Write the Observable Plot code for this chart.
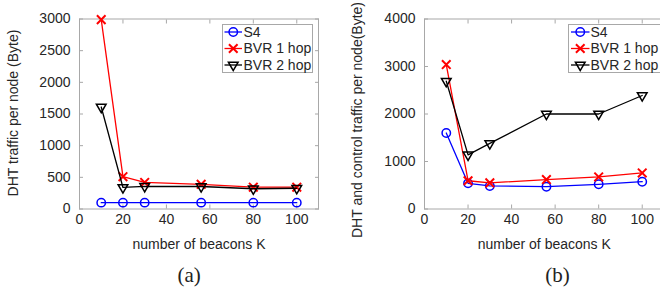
<!DOCTYPE html>
<html><head><meta charset="utf-8">
<script src="https://cdn.jsdelivr.net/npm/d3@7"></script>
<script src="https://cdn.jsdelivr.net/npm/@observablehq/plot@0.6"></script>
<style>
html,body{margin:0;padding:0;background:#fff;}
#fig{position:relative;width:660px;height:291px;overflow:hidden;background:#fff;font-family:"Liberation Sans",Arial,Helvetica,sans-serif;}
.panel{position:absolute;top:0;}
.legend{position:absolute;background:#fff;border:1px solid #a8a8a8;box-sizing:border-box;overflow:visible;}
.legend svg{display:block;overflow:visible;}
</style></head><body><div id="fig"></div>
<script>
// ---- data ----
const beacons = [10, 20, 30, 56, 80, 100];
const seriesNames = ["S4", "BVR 1 hop", "BVR 2 hop"];
const dhtS4 = [100, 100, 100, 100, 100, 100];
const dhtBvr1 = [2990, 510, 420, 390, 345, 345];
const dhtBvr2 = [1610, 340, 358, 355, 320, 328];
const ctrlS4 = [1600, 540, 485, 470, 520, 575];
const ctrlBvr1 = [3040, 595, 550, 620, 675, 760];
const ctrlBvr2 = [2690, 1140, 1380, 2000, 2000, 2390];
const xTicks = [0, 20, 40, 60, 80, 100];
const dhtTicks = [0, 500, 1000, 1500, 2000, 2500, 3000];
const ctrlTicks = [0, 1000, 2000, 3000, 4000];
const xLabel = "number of beacons K";
const dhtLabel = "DHT traffic per node (Byte)";
const ctrlLabel = "DHT and control traffic per node(Byte)";
const captions = ["(a)", "(b)"];

// ---- styles ----
const frameColor = "#a8a8a8";
const textColor = "#262626";
const sty = {
  "S4": {color: "#0000ff", symbol: "circle", d3sym: d3.symbolCircle, r: 4.2, rotate: 0, sw: 1.5},
  "BVR 1 hop": {color: "#ff0000", symbol: "times", d3sym: d3.symbolTimes, r: 4.0, rotate: 0, sw: 2},
  "BVR 2 hop": {color: "#000000", symbol: "triangle", d3sym: d3.symbolTriangle, r: 3.6, rotate: 180, sw: 1.5}
};

function rows(values, name) { return beacons.map((k, i) => ({k, v: values[i], s: name})); }

function panel({series, yDomain, yTicks, yLabel, width, marginLeft, marginRight, ylDx, ylDy, capDx, caption, xlDx}) {
  const marks = [
    Plot.frame({stroke: frameColor}),
    Plot.axisX(xTicks, {anchor: "bottom", tickSize: -4, tickPadding: 9, stroke: frameColor, fill: textColor, label: null, tickFormat: d3.format("d")}),
    Plot.axisX(xTicks, {anchor: "top", tickSize: -4, stroke: frameColor, label: null, tickFormat: () => ""}),
    Plot.axisY(yTicks, {anchor: "left", tickSize: -4, tickPadding: 13, stroke: frameColor, fill: textColor, label: null, tickFormat: d3.format("d")}),
    Plot.axisY(yTicks, {anchor: "right", tickSize: -4, stroke: frameColor, label: null, tickFormat: () => ""})
  ];
  for (const [name, values] of series) {
    const s = sty[name];
    const data = rows(values, name);
    marks.push(Plot.line(data, {x: "k", y: "v", stroke: s.color, strokeWidth: 1.3}));
    marks.push(Plot.dot(data, {x: "k", y: "v", symbol: s.symbol, r: s.r, stroke: s.color, strokeWidth: s.sw, fill: "none", rotate: s.rotate}));
  }
  marks.push(Plot.text([yLabel], {text: d => d, frameAnchor: "left", textAnchor: "middle", rotate: -90, dx: ylDx, dy: ylDy, lineAnchor: "middle", fill: textColor, fontSize: 14}));
  marks.push(Plot.text([xLabel], {text: d => d, frameAnchor: "bottom", textAnchor: "middle", dx: xlDx, dy: 35.5, lineAnchor: "middle", fill: textColor, fontSize: 14}));
  marks.push(Plot.text([caption], {text: d => d, frameAnchor: "bottom", textAnchor: "middle", dx: capDx, dy: 66.5, lineAnchor: "middle", fill: "#222", fontSize: 21, fontFamily: "Liberation Serif, Times New Roman, serif"}));
  return Plot.plot({
    width, height: 291,
    marginLeft, marginRight, marginTop: 18.5, marginBottom: 82.5,
    x: {domain: [0, 110]},
    y: {domain: yDomain},
    style: {fontFamily: "Liberation Sans, Arial, Helvetica, sans-serif", fontSize: "14px", color: textColor, background: "transparent", overflow: "visible"},
    marks
  });
}

function legend(left, top, width, lineX1, lineX2, textX, rowY) {
  const div = d3.select("#fig").append("div").attr("class", "legend")
    .style("left", left + "px").style("top", top + "px").style("width", width + "px").style("height", "49px");
  const svg = div.append("svg").attr("width", width - 2).attr("height", 47)
    .style("font-family", "Liberation Sans, Arial, Helvetica, sans-serif").style("font-size", "14px");
  seriesNames.forEach((name, i) => {
    const s = sty[name];
    const g = svg.append("g").attr("transform", `translate(0,${rowY[i]})`);
    g.append("line").attr("x1", lineX1).attr("x2", lineX2).attr("stroke", s.color).attr("stroke-width", 1.3);
    g.append("path").attr("d", d3.symbol(s.d3sym, Math.PI * s.r * s.r)())
      .attr("transform", `translate(${(lineX1 + lineX2) / 2},0) rotate(${s.rotate})`)
      .attr("fill", "none").attr("stroke", s.color).attr("stroke-width", s.sw);
    g.append("text").attr("x", textX).attr("dy", "0.35em").attr("fill", textColor).text(name);
  });
}

const fig = document.getElementById("fig");
const pa = panel({
  series: [["S4", dhtS4], ["BVR 1 hop", dhtBvr1], ["BVR 2 hop", dhtBvr2]],
  yDomain: [0, 3000], yTicks: dhtTicks, yLabel: dhtLabel,
  width: 330, marginLeft: 79, marginRight: 12, ylDx: -65.5, ylDy: -1, capDx: -9.8, caption: captions[0], xlDx: 0
});
pa.classList.add("panel"); pa.style.left = "0px";
fig.appendChild(pa);

const pb = panel({
  series: [["S4", ctrlS4], ["BVR 1 hop", ctrlBvr1], ["BVR 2 hop", ctrlBvr2]],
  yDomain: [0, 4000], yTicks: ctrlTicks, yLabel: ctrlLabel,
  width: 340, marginLeft: 94, marginRight: 6.5, ylDx: -67, ylDy: 6, capDx: 13.25, caption: captions[1], xlDx: 0
});
pb.classList.add("panel"); pb.style.left = "330px";
fig.appendChild(pb);

legend(221.5, 24, 91, 1.5, 19, 20.5, [7, 23.5, 40]);
legend(567.5, 23.5, 100, 2, 20.5, 21.5, [7, 23.5, 40]);
</script></body></html>
